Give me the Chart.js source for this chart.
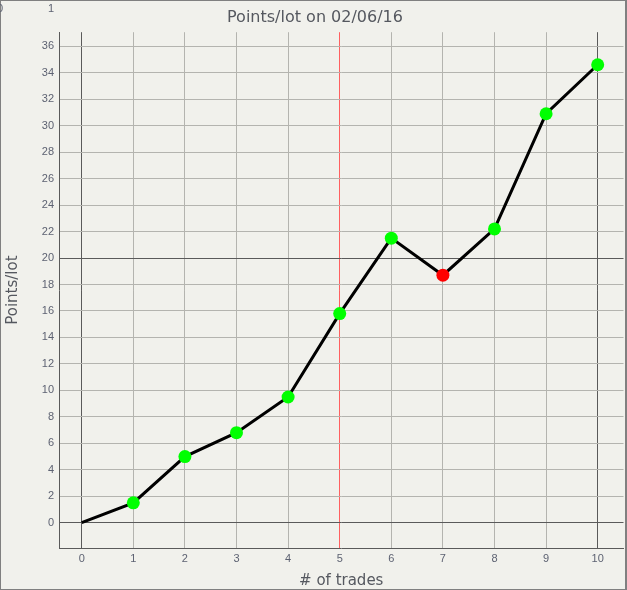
<!DOCTYPE html>
<html>
<head>
<meta charset="utf-8">
<script src="https://cdn.jsdelivr.net/npm/chart.js@4.4.1/dist/chart.umd.min.js"></script>
<style>
    html, body { margin: 0; padding: 0; background: #f1f1ec; overflow: hidden; }
    #wrap { position: relative; width: 630px; height: 590px; }
</style>
</head>
<body>
<div id="wrap"><canvas id="chart"></canvas></div>
<script>
// values
const trades = [0, 1, 2, 3, 4, 5, 6, 7, 8, 9, 10];
const pointsPerLot = [0, 1.5, 5.0, 6.8, 9.5, 15.8, 21.5, 18.7, 22.2, 30.9, 34.6];
const pointColors = ["#000000", "#00ff00", "#00ff00", "#00ff00", "#00ff00", "#00ff00",
    "#00ff00", "#ff0000", "#00ff00", "#00ff00", "#00ff00"];
const xTicks = [0, 1, 2, 3, 4, 5, 6, 7, 8, 9, 10];
const yTicks = [0, 2, 4, 6, 8, 10, 12, 14, 16, 18, 20, 22, 24, 26, 28, 30, 32, 34, 36];

const textColor = "#5d6272";
const lightGrid = "#b4b4af";
const darkGrid = "#5a5a5a";

const frame = {
    id: "frame",
    beforeDraw(chart) {
        const ctx = chart.ctx;
        ctx.save();
        ctx.fillStyle = "#f1f1ec";
        ctx.fillRect(0, 0, chart.width, chart.height);
        ctx.restore();
    },
    afterDraw(chart) {
        const ctx = chart.ctx;
        ctx.save();
        ctx.strokeStyle = "#808080";
        ctx.lineWidth = 2;
        ctx.strokeRect(0, 0, 626, 590);
        ctx.fillStyle = "#f1f1ec";
        ctx.fillRect(627, 0, chart.width - 627, chart.height);
        // stray labels in the corner
        ctx.fillStyle = textColor;
        ctx.font = "11px 'Liberation Sans'";
        ctx.textBaseline = "middle";
        ctx.textAlign = "center";
        ctx.fillText("0", 0, 9);
        ctx.fillText("1", 51, 9);
        ctx.restore();
    }
};

new Chart(document.getElementById("chart"), {
    type: "line",
    data: {
        datasets: [{
            data: trades.map((t, i) => ({ x: t, y: pointsPerLot[i] })),
            borderColor: "#000000",
            borderWidth: 3,
            tension: 0,
            fill: false,
            pointRadius: trades.map((t, i) => i === 0 ? 0 : 6.5),
            pointBackgroundColor: pointColors,
            pointBorderColor: pointColors,
            pointBorderWidth: 0
        }]
    },
    options: {
        animation: false,
        responsive: true,
        maintainAspectRatio: false,
        layout: { padding: { left: 0, right: 0, top: 0, bottom: 0 } },
        plugins: {
            legend: { display: false },
            tooltip: { enabled: false },
            title: {
                display: true,
                text: "Points/lot on 02/06/16",
                color: "#55585f",
                font: { family: "'DejaVu Sans'", size: 16, weight: "normal" },
                padding: { top: 8, bottom: 5 }
            }
        },
        scales: {
            x: {
                type: "linear",
                min: -0.44,
                max: 10.5,
                afterBuildTicks: (scale) => { scale.ticks = xTicks.map(v => ({ value: v })); },
                afterFit: (scale) => { scale.height = 42; },
                border: { color: darkGrid, width: 1 },
                grid: {
                    drawTicks: false,
                    color: (c) => {
                        const v = c.tick && c.tick.value;
                        if (v === 5) return "#ff6060";
                        if (v === 0 || v === 10) return darkGrid;
                        return lightGrid;
                    }
                },
                ticks: {
                    color: textColor,
                    padding: 4,
                    font: { family: "'Liberation Sans'", size: 11 }
                },
                title: {
                    display: true,
                    text: "# of trades",
                    color: "#55585f",
                    font: { family: "'DejaVu Sans'", size: 15 },
                    padding: { top: 2, bottom: 0 }
                }
            },
            y: {
                type: "linear",
                min: -1.91,
                max: 37.06,
                afterBuildTicks: (scale) => { scale.ticks = yTicks.map(v => ({ value: v })); },
                afterFit: (scale) => { scale.width = 59; },
                border: { color: darkGrid, width: 1 },
                grid: {
                    drawTicks: false,
                    color: (c) => {
                        const v = c.tick && c.tick.value;
                        if (v === 0 || v === 20) return darkGrid;
                        return lightGrid;
                    }
                },
                ticks: {
                    color: textColor,
                    padding: 5,
                    font: { family: "'Liberation Sans'", size: 11 }
                },
                title: {
                    display: true,
                    text: "Points/lot",
                    color: "#55585f",
                    font: { family: "'DejaVu Sans'", size: 15 },
                    padding: { top: 4, bottom: 0 }
                }
            }
        }
    },
    plugins: [frame]
});
</script>
</body>
</html>
